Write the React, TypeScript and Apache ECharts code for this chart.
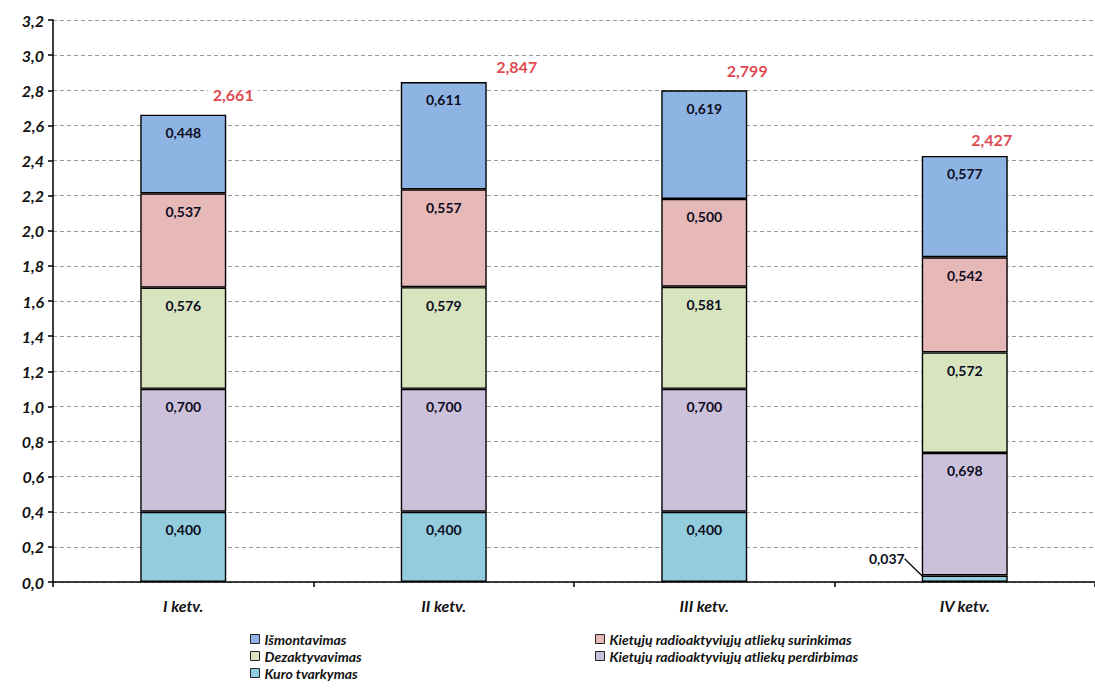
import React, { useEffect, useRef } from "react";
import * as echarts from "echarts";

// Quarters on the x axis
const categories = ["I ketv.", "II ketv.", "III ketv.", "IV ketv."];

// Stacked components, bottom to top
const kuroTvarkymas = [0.4, 0.4, 0.4, 0.037];
const perdirbimas = [0.7, 0.7, 0.7, 0.698];
const dezaktyvavimas = [0.576, 0.579, 0.581, 0.572];
const surinkimas = [0.537, 0.557, 0.5, 0.542];
const ismontavimas = [0.448, 0.611, 0.619, 0.577];

// Quarter totals shown in red above each bar
const totals = [2.661, 2.847, 2.799, 2.427];

// Y axis range
const yMin = 0;
const yMax = 3.2;
const yStep = 0.2;

const FONT = "Lato, 'Open Sans', sans-serif";
const fmt3 = (v: number) => v.toFixed(3).replace(".", ",");

export default function App() {
  const ref = useRef<HTMLDivElement>(null);

  useEffect(() => {
    if (!ref.current) return;
    const chart = echarts.init(ref.current, undefined, { renderer: "svg" });

    const segLabel = {
      show: true,
      position: "insideTop" as const,
      distance: 11,
      formatter: (p: any) => fmt3(p.value as number),
      color: "#0d0d22",
      fontSize: 14,
      fontWeight: "bold" as const,
      fontFamily: FONT,
    };
    const border = { borderColor: "#000", borderWidth: 1.4 };

    const mk = (name: string, data: any[], color: string, extra: any = {}) => ({
      name,
      type: "bar",
      stack: "total",
      barWidth: "33%",
      data,
      itemStyle: { color, ...border },
      label: segLabel,
      ...extra,
    });

    // Totals label offsets (label placement beside the bar top)
    const totalOffsets = [
      [50, -20],
      [73, -15],
      [43, -20],
      [27, -16],
    ];

    const legendText = {
      fontSize: 14,
      fontWeight: "bold",
      fontStyle: "italic",
      color: "#111",
      lineHeight: 14,
      fontFamily: FONT,
    };

    chart.setOption({
      animation: false,
      backgroundColor: "#fff",
      textStyle: { fontFamily: FONT },
      grid: { left: 53, right: -7, top: 20, bottom: 109, containLabel: false },
      legend: [
        {
          orient: "vertical",
          left: 250,
          top: 632,
          padding: 0,
          itemGap: 3,
          itemWidth: 9,
          itemHeight: 9,
          icon: "rect",
          itemStyle: { borderColor: "#222", borderWidth: 1 },
          textStyle: legendText,
          data: ["Išmontavimas", "Dezaktyvavimas", "Kuro tvarkymas"],
        },
        {
          orient: "vertical",
          left: 595,
          top: 632,
          padding: 0,
          itemGap: 3,
          itemWidth: 9,
          itemHeight: 9,
          icon: "rect",
          itemStyle: { borderColor: "#222", borderWidth: 1 },
          textStyle: legendText,
          data: [
            "Kietųjų radioaktyviųjų atliekų surinkimas",
            "Kietųjų radioaktyviųjų atliekų perdirbimas",
          ],
        },
      ],
      xAxis: {
        type: "category",
        data: categories,
        axisLine: { lineStyle: { color: "#000", width: 1.5 } },
        axisTick: { show: true, length: 5, lineStyle: { color: "#000", width: 1.5 } },
        axisLabel: {
          margin: 15,
          fontSize: 16,
          fontWeight: "bold",
          fontStyle: "italic",
          color: "#111",
          fontFamily: FONT,
        },
      },
      yAxis: {
        type: "value",
        min: yMin,
        max: yMax,
        interval: yStep,
        axisLine: { show: true, lineStyle: { color: "#000", width: 1.5 } },
        axisTick: { show: true, length: 5, lineStyle: { color: "#000", width: 1.5 } },
        splitLine: { lineStyle: { color: "#999", type: [4, 3], width: 1 } },
        axisLabel: {
          margin: 9,
          fontSize: 16,
          fontWeight: "bold",
          fontStyle: "italic",
          color: "#111",
          fontFamily: FONT,
          formatter: (v: number) => v.toFixed(1).replace(".", ","),
        },
      },
      series: [
        mk(
          "Kuro tvarkymas",
          kuroTvarkymas.map((v, i) =>
            i === 3 ? { value: v, label: { position: "inside" } } : v
          ),
          "#93CDDD",
          {
            labelLayout: (p: any) => (p.dataIndex === 3 ? { dx: -78, dy: -20 } : {}),
            labelLine: { show: true, lineStyle: { color: "#000", width: 1.2 } },
          }
        ),
        mk("Kietųjų radioaktyviųjų atliekų perdirbimas", perdirbimas, "#CCC1DA"),
        mk("Dezaktyvavimas", dezaktyvavimas, "#D7E4BD"),
        mk("Kietųjų radioaktyviųjų atliekų surinkimas", surinkimas, "#E6B9B8"),
        mk("Išmontavimas", ismontavimas, "#8EB4E3"),
        {
          name: "Iš viso",
          type: "scatter",
          symbolSize: 0,
          silent: true,
          z: 10,
          data: totals.map((v, i) => ({
            value: v,
            label: { offset: totalOffsets[i] },
          })),
          label: {
            show: true,
            position: "inside",
            formatter: (p: any) => fmt3(p.value as number),
            color: "#D9141E",
            fontSize: 16,
            fontWeight: "bold",
            fontFamily: FONT,
            backgroundColor: "#fff",
            padding: [3, 5],
          },
        },
      ],
    });

    return () => chart.dispose();
  }, []);

  return (
    <div
      ref={ref}
      style={{ position: "fixed", left: 0, top: 0, width: 1095, height: 691 }}
    />
  );
}
